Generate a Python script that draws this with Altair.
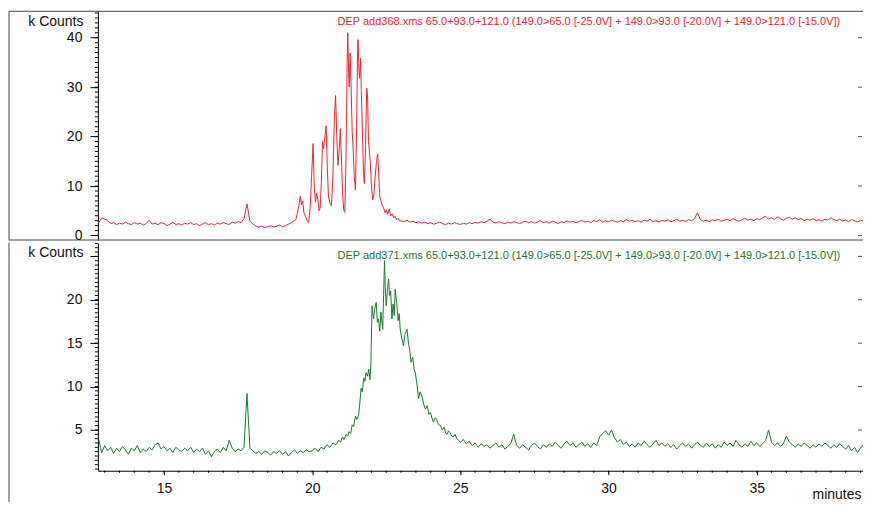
import altair as alt
import pandas as pd

FONT = "Liberation Sans"
RED = "#e8262f"
GREEN = "#17792d"
FRAME = "#444444"

RED_TITLE = "DEP add368.xms 65.0+93.0+121.0 (149.0>65.0 [-25.0V] + 149.0>93.0 [-20.0V] + 149.0>121.0 [-15.0V])"
GREEN_TITLE = "DEP add371.xms 65.0+93.0+121.0 (149.0>65.0 [-25.0V] + 149.0>93.0 [-20.0V] + 149.0>121.0 [-15.0V])"

X_TICKS = [15, 20, 25, 30, 35]
TOP_TICKS = [0, 10, 20, 30, 40]
BOT_TICKS = [5, 10, 15, 20, 25]

# ---- red trace (k counts), baseline sampled every 0.1 min from 12.8 ----
RED_BASE1 = [2.6, 3.6, 3.3, 3.1, 2.4, 2.6, 2.2, 2.5, 2.3, 2.7,
             2.4, 2.2, 2.6, 2.3, 2.5, 2.1, 2.4, 3.1, 2.3, 2.5,
             2.2, 2.6, 2.4, 2.0, 2.3, 2.7, 2.2, 2.4, 2.1, 2.5,
             2.3, 2.6, 2.2, 2.4, 2.0, 2.3, 2.6, 2.2, 2.4, 2.1,
             2.5, 2.3, 2.6, 2.4, 2.2, 2.7, 2.5, 2.8, 2.6, 3.4,
             6.4, 2.9, 2.3, 1.9, 1.7, 1.9, 1.6, 1.8, 2.0, 1.7,
             1.9, 2.1, 1.8, 2.0, 2.3, 2.6, 3.0]
RED_PEAK_T = [19.45, 19.5, 19.55, 19.6, 19.64, 19.68, 19.72, 19.78, 19.83, 19.88,
              19.93, 19.98, 20.03, 20.07, 20.11, 20.15, 20.19, 20.23, 20.27, 20.31,
              20.35, 20.38, 20.42, 20.47, 20.51, 20.55, 20.6, 20.65, 20.7, 20.75,
              20.79, 20.83, 20.87, 20.91, 20.95, 20.99, 21.03, 21.07, 21.1, 21.14,
              21.18, 21.2, 21.23, 21.25, 21.28, 21.31, 21.35, 21.38, 21.42, 21.46,
              21.5, 21.53, 21.55, 21.58, 21.6, 21.63, 21.66, 21.7, 21.73, 21.76,
              21.8, 21.84, 21.87, 21.9, 21.93, 21.96, 22.0, 22.04, 22.08, 22.12,
              22.17, 22.21, 22.24, 22.28, 22.32, 22.36, 22.41, 22.46, 22.5, 22.55,
              22.6, 22.65, 22.7, 22.75, 22.8, 22.85, 22.9, 22.95]
RED_PEAK_V = [3.2, 4.5, 6.0, 8.0, 6.2, 7.0, 4.6, 3.8, 3.0, 2.6,
              5.5, 12.0, 18.6, 10.0, 6.7, 8.6, 7.4, 5.0, 5.6, 11.0,
              19.0, 17.5, 19.5, 22.2, 14.0, 7.8, 6.6, 6.0, 12.0, 24.0,
              28.3, 20.0, 14.2, 17.0, 21.6, 15.0, 8.0, 5.0, 4.7, 15.0,
              35.0, 41.0, 33.0, 30.0, 36.9, 31.0, 21.0, 18.0, 12.0, 9.2,
              22.0, 37.0, 39.6, 33.0, 31.8, 35.8, 29.0, 20.0, 13.0, 10.5,
              18.0, 29.8, 28.0, 19.0, 17.2, 15.0, 10.0, 7.2, 8.0, 11.5,
              15.0, 16.5, 13.0, 8.0, 7.0, 6.2, 5.6, 4.6, 5.2, 4.3,
              5.4, 4.0, 4.4, 3.6, 3.9, 3.2, 3.5, 2.9]
RED_BASE2 = [3.0, 2.8, 3.1, 2.7, 2.9, 2.6, 2.8, 2.5, 2.7, 2.4,
             2.6, 2.3, 2.5, 2.7, 2.4, 2.2, 2.5, 2.3, 2.6, 2.4,
             2.2, 2.5, 2.3, 2.6, 2.4, 2.7, 2.5, 2.8, 2.6, 2.9,
             3.3, 2.7, 2.5, 2.8, 2.6, 2.4, 2.7, 2.5, 2.8, 2.6,
             2.4, 2.7, 2.9, 2.6, 2.8, 2.5, 2.7, 3.0, 2.6, 2.8,
             2.5, 2.9, 2.7, 2.4, 2.8, 2.6, 3.0, 2.7, 2.9, 2.6,
             2.8, 3.1, 2.7, 2.9, 2.6, 3.0, 2.8, 3.2, 2.7, 3.0,
             2.8, 3.1, 2.9, 2.7, 3.0, 2.8, 3.2, 2.9, 3.1, 2.8,
             3.0, 2.7, 3.1, 2.9, 3.3, 2.8, 3.0, 2.7, 3.1, 2.9,
             3.2, 2.8, 3.0, 3.3, 2.9, 3.1, 2.8, 3.2, 3.0, 3.4,
             4.6, 3.2, 2.9, 3.1, 2.8, 3.2, 3.0, 3.3, 2.9, 3.1,
             3.3, 3.0, 3.4, 3.1, 2.9, 3.2, 3.5, 3.1, 3.3, 3.0,
             3.4, 3.2, 3.6, 3.9, 3.3, 3.6, 3.2, 3.8, 3.4, 3.1,
             3.5, 3.7, 3.3, 3.6, 3.2, 3.4, 3.0, 3.3, 3.1, 3.4,
             3.0, 3.2, 2.9, 3.3, 3.1, 3.6, 3.2, 3.0, 3.3, 2.9,
             3.1, 2.8, 3.2, 3.0, 2.7, 3.1, 2.9, 3.2]

# ---- green trace ----
GREEN_BASE1 = [3.9, 2.4, 3.2, 2.6, 3.0, 2.3, 2.9, 2.5, 3.1, 2.7,
               2.2, 2.9, 2.6, 3.2, 2.4, 2.8, 2.5, 3.0, 2.7, 3.3,
               3.5, 2.8, 3.1, 2.6, 2.9, 2.4, 3.0, 2.7, 2.5, 2.9,
               2.6, 3.0, 2.4, 2.8, 2.5, 2.9, 2.2, 2.6, 1.9, 2.5,
               2.8, 2.4, 3.0, 2.6, 3.8, 2.9, 2.5, 2.8, 2.6, 3.0,
               9.2, 2.9, 2.6, 2.3, 2.5, 2.2, 2.6, 2.4, 2.1, 2.5,
               2.3, 2.6, 2.2, 2.5, 2.0, 2.4, 2.7, 2.3, 2.6, 2.4,
               2.7, 2.5]
GREEN_PEAK_T = [20.0, 20.1, 20.2, 20.3, 20.4, 20.5, 20.6, 20.7, 20.8, 20.9,
                20.96, 21.02, 21.08, 21.14, 21.2, 21.24, 21.3, 21.35, 21.4, 21.46,
                21.51, 21.57, 21.61, 21.65, 21.69, 21.74, 21.78, 21.82, 21.87, 21.91,
                21.95, 21.98, 22.02, 22.07, 22.11, 22.16, 22.2, 22.24, 22.28, 22.32,
                22.38, 22.41, 22.44, 22.47, 22.5, 22.54, 22.58, 22.61, 22.65, 22.69,
                22.73, 22.77, 22.8, 22.85, 22.9, 22.94, 22.97, 23.02, 23.08, 23.13,
                23.2, 23.25, 23.3, 23.34, 23.39, 23.44, 23.48, 23.53, 23.59, 23.64,
                23.7, 23.76, 23.82, 23.88, 23.94, 23.99, 24.04, 24.09, 24.15, 24.2,
                24.26, 24.33, 24.39, 24.45, 24.5, 24.55, 24.6, 24.65, 24.71, 24.76,
                24.82, 24.88, 24.94]
GREEN_PEAK_V = [2.6, 2.9, 2.5, 3.0, 2.8, 3.3, 3.0, 3.5, 3.3, 3.8,
                3.6, 4.2, 3.9, 4.5, 4.3, 4.8, 4.6, 5.6, 5.4, 6.6,
                6.2, 6.8, 8.2, 9.8, 9.4, 11.0, 10.6, 11.6, 11.2, 12.0,
                10.8, 12.5, 19.3, 17.8, 18.9, 19.7, 17.4, 17.8, 16.4, 18.6,
                16.6, 20.5, 24.5, 21.0, 19.3, 21.2, 22.4, 20.5, 21.0, 17.8,
                19.5, 18.2, 21.2, 19.7, 17.6, 18.4, 16.6, 15.6, 14.7, 16.0,
                16.6, 15.0, 14.0, 12.8, 13.4, 12.0, 11.6, 10.4, 8.6, 9.4,
                8.9, 8.0, 7.4, 7.8, 6.8, 7.0, 6.4, 5.9, 6.4, 6.2,
                5.6, 5.5, 5.0, 5.3, 4.7, 4.5, 4.9, 4.7, 4.3, 4.2,
                4.5, 4.0, 3.8]
GREEN_BASE2 = [3.6, 3.9, 3.4, 3.7, 3.2, 3.5, 3.0, 3.4, 3.1, 3.3,
               2.9, 3.2, 3.5, 3.0, 3.3, 2.8, 3.1, 3.4, 4.5, 3.2,
               2.9, 3.3, 3.0, 2.7, 3.2, 3.5, 3.1, 2.8, 3.3, 3.0,
               3.4, 3.1, 3.6, 3.2, 2.9, 3.4, 3.7, 3.2, 3.5, 3.0,
               3.3, 3.6, 3.1, 3.4, 3.0, 3.5, 3.2, 4.2, 4.6, 4.9,
               4.4, 5.0, 4.1, 3.6, 3.9, 3.3, 3.6, 3.1, 3.4, 3.0,
               3.5, 3.2, 3.7, 3.3, 3.0, 3.4, 3.8, 3.2, 3.5, 3.1,
               3.4, 3.0, 3.3, 2.8, 3.2, 3.5, 3.1, 3.4, 2.9, 3.3,
               3.6, 3.2, 3.0, 3.5, 3.1, 3.4, 2.9, 3.3, 3.0, 3.6,
               3.2, 3.5, 3.1, 3.8, 3.3, 3.0, 3.4, 3.1, 3.7, 3.2,
               3.5, 3.1, 3.4, 3.8, 5.0, 3.6, 3.2, 3.5, 3.1, 3.4,
               4.3, 3.6, 3.3, 3.0, 3.4, 3.1, 3.5, 3.2, 2.9, 3.3,
               3.0, 3.4, 3.1, 3.5, 3.2, 2.9, 3.3, 3.0, 3.4, 3.1,
               2.8, 3.2, 2.6, 3.0, 2.4, 2.9, 3.3, 4.4]


def seg(t0, step, vals):
    return [round(t0 + i * step, 3) for i in range(len(vals))]


red_df = pd.DataFrame({
    "t": seg(12.8, 0.1, RED_BASE1) + RED_PEAK_T + seg(23.0, 0.1, RED_BASE2),
    "v": RED_BASE1 + RED_PEAK_V + RED_BASE2,
})
green_df = pd.DataFrame({
    "t": seg(12.8, 0.1, GREEN_BASE1) + GREEN_PEAK_T + seg(25.0, 0.1, GREEN_BASE2),
    "v": GREEN_BASE1 + GREEN_PEAK_V + GREEN_BASE2,
})

W = 770
H1 = 229
H2 = 228
x_scale = alt.Scale(domain=[12.77, 38.72], nice=False, zero=False)
top_y = alt.Scale(domain=[-0.91, 45.35], nice=False, zero=False)
bot_y = alt.Scale(domain=[0.3, 26.54], nice=False, zero=False)

one = pd.DataFrame({"a": [0]})


def y_axis(values, label_expr=None):
    kw = dict(values=values, tickSize=8, labelPadding=8, domainColor="black",
              tickColor="black", labelFont=FONT, labelFontSize=14, labelColor="#111",
              grid=False, title="k Counts", titleAngle=0, titleAlign="right",
              titleBaseline="middle", titleX=-15, titleY=10, titleFont=FONT,
              titleFontSize=14, titleFontWeight="normal", titleColor="#111")
    if label_expr:
        kw["labelExpr"] = label_expr
    return alt.Axis(**kw)


def hline(ypix):
    return alt.Chart(one).mark_rule(color=FRAME, strokeWidth=1).encode(
        x=alt.value(-89), x2=alt.value(W + 3), y=alt.value(ypix))


def vline(y2pix):
    return alt.Chart(one).mark_rule(color=FRAME, strokeWidth=1).encode(
        x=alt.value(-89), y=alt.value(0), y2=alt.value(y2pix))


def minor_ticks(vals, scale):
    return alt.Chart(pd.DataFrame({"m": vals})).mark_rule(
        color="black", strokeWidth=1).encode(
        y=alt.Y("m:Q", scale=scale, axis=None),
        x=alt.value(-3), x2=alt.value(0))


def right_ticks(vals, scale):
    return alt.Chart(pd.DataFrame({"r": vals})).mark_rule(
        color="#555555", strokeWidth=1).encode(
        y=alt.Y("r:Q", scale=scale, axis=None),
        x=alt.value(W - 9), x2=alt.value(W - 5))


# ---------- top panel ----------
top_line = alt.Chart(red_df).mark_line(color=RED, strokeWidth=1, clip=True).encode(
    x=alt.X("t:Q", scale=x_scale, axis=None),
    y=alt.Y("v:Q", scale=top_y, axis=y_axis(TOP_TICKS)),
)
top_text = alt.Chart(pd.DataFrame({"label": [RED_TITLE]})).mark_text(
    align="left", baseline="middle", font=FONT, fontSize=11, color=RED).encode(
    x=alt.value(240), y=alt.value(11), text="label:N")

top = alt.layer(hline(0), hline(H1), vline(H1), top_line,
                minor_ticks(list(range(0, 46)), top_y),
                right_ticks(TOP_TICKS, top_y), top_text).resolve_axis(
    x="independent", y="independent").properties(width=W, height=H1)

# ---------- bottom panel ----------
bot_line = alt.Chart(green_df).mark_line(color=GREEN, strokeWidth=1, clip=True).encode(
    x=alt.X("t:Q", scale=x_scale,
            axis=alt.Axis(values=X_TICKS, tickSize=4, labelPadding=7, domainColor="black",
                          tickColor="black", labelFont=FONT, labelFontSize=14,
                          labelColor="#111", grid=False, title="minutes",
                          titleX=715, titleY=24, titleAlign="left", titleBaseline="middle",
                          titleFont=FONT, titleFontSize=14, titleFontWeight="normal",
                          titleColor="#111")),
    y=alt.Y("v:Q", scale=bot_y,
            axis=y_axis(BOT_TICKS, "datum.value == 25 ? '' : datum.label")),
)
bot_xminor = alt.Chart(pd.DataFrame({"mx": [13 + 0.5 * i for i in range(0, 52)]})).mark_rule(
    color="black", strokeWidth=1).encode(
    x=alt.X("mx:Q", scale=x_scale, axis=None),
    y=alt.value(H2), y2=alt.value(H2 + 2),
)
bot_text = alt.Chart(pd.DataFrame({"label": [GREEN_TITLE]})).mark_text(
    align="left", baseline="middle", font=FONT, fontSize=11, color=GREEN).encode(
    x=alt.value(240), y=alt.value(13), text="label:N")

bottom = alt.layer(vline(H2 + 40), bot_line,
                   minor_ticks([0.5 * i for i in range(1, 54)], bot_y),
                   right_ticks(BOT_TICKS, bot_y), bot_xminor, bot_text).resolve_axis(
    x="independent", y="independent").properties(width=W, height=H2)

chart = alt.vconcat(top, bottom, spacing=-2).properties(
    padding={"left": 0, "top": 2, "right": -8, "bottom": -10}
).configure_view(strokeWidth=0)

chart.save("out.html", embed_options={"renderer": "svg", "actions": False})
